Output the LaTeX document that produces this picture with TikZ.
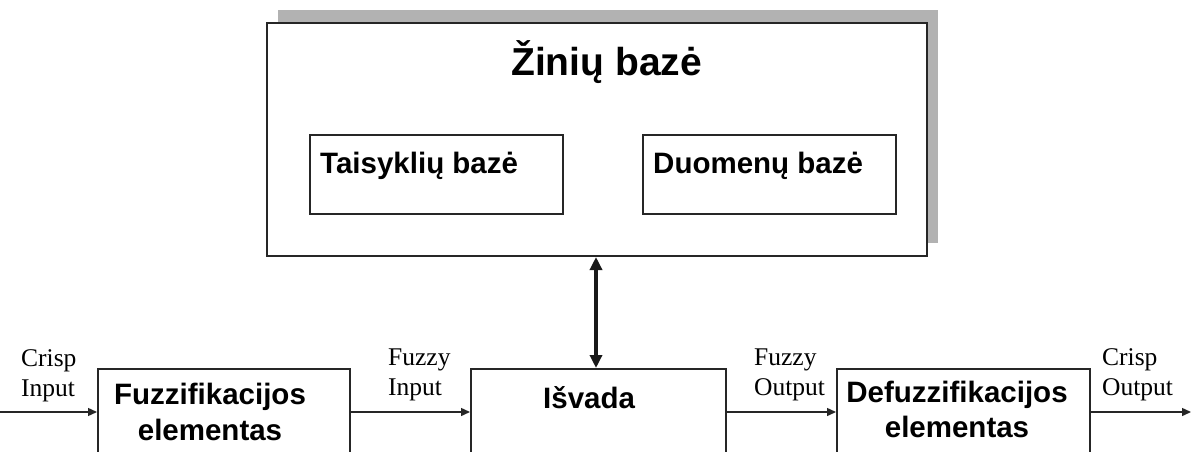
\documentclass[tikz,border=0pt]{standalone}
\usepackage{fontspec}
\setmainfont{Liberation Serif}
\newfontfamily\arialfont{Liberation Sans}
\usetikzlibrary{arrows.meta}

\begin{document}
\begin{tikzpicture}[x=1pt,y=-1pt,
  block/.style={draw=black!85, line width=2pt, fill=white, inner sep=0pt,
                anchor=north west},
  boxtext/.style={inner sep=0pt, anchor=base west,
                  font=\arialfont\bfseries\fontsize{29.5}{36}\selectfont},
  sig/.style={inner sep=0pt, anchor=base west, align=left,
              font=\fontsize{25.5}{30}\selectfont},
  flow/.style={line width=1.4pt, black!85, -{Triangle[length=9pt,width=8pt]}},
  link/.style={line width=3.6pt, black!90,
               {Triangle[length=13pt,width=12pt]}-{Triangle[length=13pt,width=12pt]}}
]
\useasboundingbox (0,0) rectangle (1191,452);
\clip (0,0) rectangle (1191,452);

% knowledge base with its grey shadow
\fill[black!30] (278,10) rectangle (938,243);
\node[block, minimum width=660pt, minimum height=233pt] (kb) at (266,22) {};
\node[inner sep=0pt, anchor=base west,
      font=\arialfont\bfseries\fontsize{39}{44}\selectfont] (kbtitle) at (511,76) {Žinių bazė};

\node[block, minimum width=253pt, minimum height=79pt] (rules) at (309,134) {};
\node[boxtext] (rulestext) at (320,173) {Taisyklių bazė};
\node[block, minimum width=253pt, minimum height=79pt] (data) at (642,134) {};
\node[boxtext] (datatext) at (653,173) {Duomenų bazė};

% processing chain (anchors of two-line texts sit on the last baseline)
\node[block, minimum width=252pt, minimum height=130pt] (fuzz) at (97,368) {};
\node[inner sep=0pt, align=center, anchor=base,
      font=\arialfont\bfseries\fontsize{29.5}{36}\selectfont] (fuzztext) at (210,440)
      {Fuzzifikacijos\\elementas};
\node[block, minimum width=255pt, minimum height=130pt] (inf) at (470,368) {};
\node[boxtext] (inftext) at (543,408) {Išvada};
\node[block, minimum width=253pt, minimum height=130pt] (defuzz) at (836,368) {};
\node[inner sep=0pt, align=center, anchor=base,
      font=\arialfont\bfseries\fontsize{29.5}{35}\selectfont] (defuzztext) at (957,437)
      {Defuzzifikacijos\\elementas};

% signal labels
\node[sig] (lcin) at (21,396) {Crisp\\Input};
\node[sig] (lfin) at (388,395) {Fuzzy\\Input};
\node[sig] (lfout) at (754,395) {Fuzzy\\Output};
\node[sig] (lcout) at (1102,395) {Crisp\\Output};

% connectors
\coordinate (cin) at (0,412);
\coordinate (cout) at (1191,412);
\draw[flow] (cin) -- (cin -| fuzz.west);
\draw[flow] (fuzz.east |- cin) -- (inf.west |- cin);
\draw[flow] (inf.east |- cin) -- (defuzz.west |- cin);
\draw[flow] (defuzz.east |- cin) -- (cout);
\draw[link] (kb.south -| 596,0) -- (inf.north -| 596,0);
\end{tikzpicture}
\end{document}
